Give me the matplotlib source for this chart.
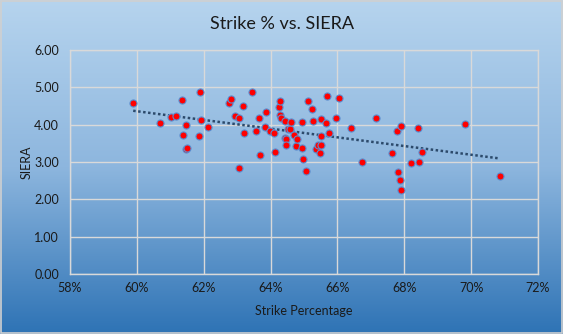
import numpy as np
import matplotlib
matplotlib.use("Agg")
import matplotlib.pyplot as plt
from matplotlib.ticker import FuncFormatter, MultipleLocator
from matplotlib.colors import LinearSegmentedColormap

strike_pct = [59.89, 60.70, 61.02, 61.17, 61.36, 61.39, 61.47, 61.47, 61.51, 61.89,
              61.87, 61.93, 62.14, 62.76, 62.83, 62.95, 63.07, 63.07, 63.19, 63.22,
              63.45, 63.57, 63.64, 63.69, 63.86, 63.84, 63.98, 64.09, 64.14, 64.26,
              64.29, 64.28, 64.32, 64.42, 64.44, 64.47, 64.47, 64.52, 64.57, 64.62,
              64.71, 64.77, 64.80, 64.93, 64.95, 64.98, 65.05, 65.12, 65.25, 65.28,
              65.35, 65.43, 65.47, 65.50, 65.50, 65.52, 65.67, 65.70, 65.74, 65.97,
              66.04, 66.42, 66.73, 67.15, 67.63, 67.77, 67.80, 67.86, 67.89, 67.89,
              68.19, 68.40, 68.44, 68.52, 69.81, 70.86]
siera = [4.57, 4.05, 4.20, 4.22, 4.65, 3.71, 3.98, 3.34, 3.38, 4.87,
         3.69, 4.12, 3.93, 4.57, 4.69, 4.23, 4.17, 2.83, 4.49, 3.77,
         4.87, 3.82, 4.17, 3.18, 4.33, 3.94, 3.82, 3.79, 3.26, 4.46,
         4.63, 4.26, 4.17, 4.09, 3.64, 3.61, 3.45, 3.89, 3.89, 4.06,
         3.71, 3.42, 3.61, 4.06, 3.38, 3.07, 2.75, 4.63, 4.41, 4.09,
         3.36, 3.45, 3.23, 4.14, 3.69, 3.45, 4.04, 4.76, 3.79, 4.17,
         4.71, 3.90, 2.99, 4.17, 3.23, 3.82, 2.72, 2.51, 3.96, 2.24,
         2.96, 3.90, 2.99, 3.26, 4.01, 2.62]

x = np.array(strike_pct) / 100.0
y = np.array(siera)

plt.rcParams['font.family'] = ['Lato', 'DejaVu Sans']

W, H = 563, 334
fig = plt.figure(figsize=(W / 100, H / 100), dpi=100)

# gradient background
bg = fig.add_axes([0, 0, 1, 1], zorder=0)
cmap = LinearSegmentedColormap.from_list('bg', ['#B6D4EE', '#8DB6DE', '#2E73B5'])
grad = np.linspace(0, 1, 256).reshape(-1, 1)
bg.imshow(grad, aspect='auto', cmap=cmap, extent=[0, 1, 0, 1], origin='upper')
bg.set_xlim(0, 1)
bg.set_ylim(0, 1)
bg.axis('off')
bg.add_patch(plt.Rectangle((0.001, 0.002), 0.997, 0.995, fill=False,
                           edgecolor='#D0D0D0', linewidth=1.2, transform=bg.transAxes))

ax = fig.add_axes([70 / W, 1 - 274 / H, 468 / W, 224 / H], zorder=1)
ax.set_facecolor('none')

ax.set_xlim(0.58, 0.72)
ax.set_ylim(0, 6)
ax.xaxis.set_major_locator(MultipleLocator(0.02))
ax.yaxis.set_major_locator(MultipleLocator(1))
ax.xaxis.set_major_formatter(FuncFormatter(lambda v, p: f"{v * 100:.0f}%"))
ax.yaxis.set_major_formatter(FuncFormatter(lambda v, p: f"{v:.2f}"))
ax.grid(True, color='#D9D9D9', linewidth=1.0)
ax.set_axisbelow(True)
for s in ax.spines.values():
    s.set_color('#D9D9D9')
    s.set_linewidth(1.0)
ax.tick_params(axis='y', length=0, labelsize=9, colors='#1a1a1a', pad=8)
ax.tick_params(axis='x', length=0, labelsize=9, colors='#1a1a1a', pad=6)

ax.scatter(x, y, s=26, color='#FF0000', edgecolors='#5A8ED0', linewidths=0.8, zorder=3)

# linear trendline
m, b = np.polyfit(x, y, 1)
xt = np.array([x.min(), x.max()])
ax.plot(xt, m * xt + b, linestyle=(0, (1, 1)), color='#2C4A6B', linewidth=1.8, zorder=2)

fig.text(0.5, 1 - 24 / H, 'Strike % vs. SIERA', ha='center', va='center',
         fontsize=13, color='#1a1a1a')
ax.set_xlabel('Strike Percentage', fontsize=9, color='#1a1a1a', labelpad=8)
ax.set_ylabel('SIERA', fontsize=9, color='#1a1a1a', labelpad=1)

fig.savefig('out.png', dpi=100)
